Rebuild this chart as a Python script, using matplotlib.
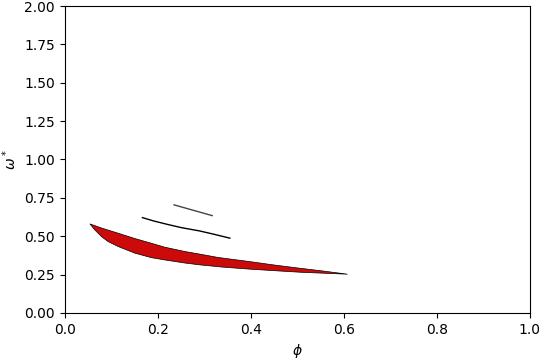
import matplotlib
matplotlib.use("Agg")
import matplotlib.pyplot as plt
import numpy as np

# Red region boundaries
upper_phi = [0.054, 0.08, 0.115, 0.15, 0.186, 0.215, 0.258, 0.29, 0.33, 0.37, 0.398, 0.45, 0.505, 0.56, 0.608]
upper_w = [0.580, 0.552, 0.519, 0.485, 0.454, 0.428, 0.400, 0.383, 0.361, 0.345, 0.334, 0.312, 0.291, 0.271, 0.252]
lower_phi = [0.054, 0.0645, 0.079, 0.093, 0.115, 0.151, 0.186, 0.215, 0.258, 0.29, 0.34, 0.398, 0.45, 0.505, 0.56, 0.608]
lower_w = [0.580, 0.541, 0.497, 0.465, 0.432, 0.389, 0.360, 0.345, 0.325, 0.313, 0.298, 0.285, 0.275, 0.265, 0.258, 0.252]

# Thin lines
mid_phi = [0.167, 0.19, 0.219, 0.25, 0.290, 0.32, 0.355]
mid_w = [0.621, 0.600, 0.578, 0.556, 0.534, 0.513, 0.487]
top_phi = [0.235, 0.317]
top_w = [0.704, 0.634]

fig = plt.figure(figsize=(5.4, 3.6), dpi=100)
ax = fig.add_axes([0.12, 0.131, 0.861, 0.852])

poly_x = upper_phi + lower_phi[::-1]
poly_y = upper_w + lower_w[::-1]
ax.fill(poly_x, poly_y, facecolor='#cc0a0a', edgecolor='black', linewidth=0.5)
ax.plot(mid_phi, mid_w, color='black', linewidth=1.0)
ax.plot(top_phi, top_w, color='#444444', linewidth=1.0)

ax.set_xlim(0, 1)
ax.set_ylim(0, 2)
ax.set_yticks(np.arange(0, 2.01, 0.25))
ax.set_xlabel(r'$\phi$')
ax.set_ylabel(r'$\omega^*$')
fig.savefig('out.png', dpi=100)
